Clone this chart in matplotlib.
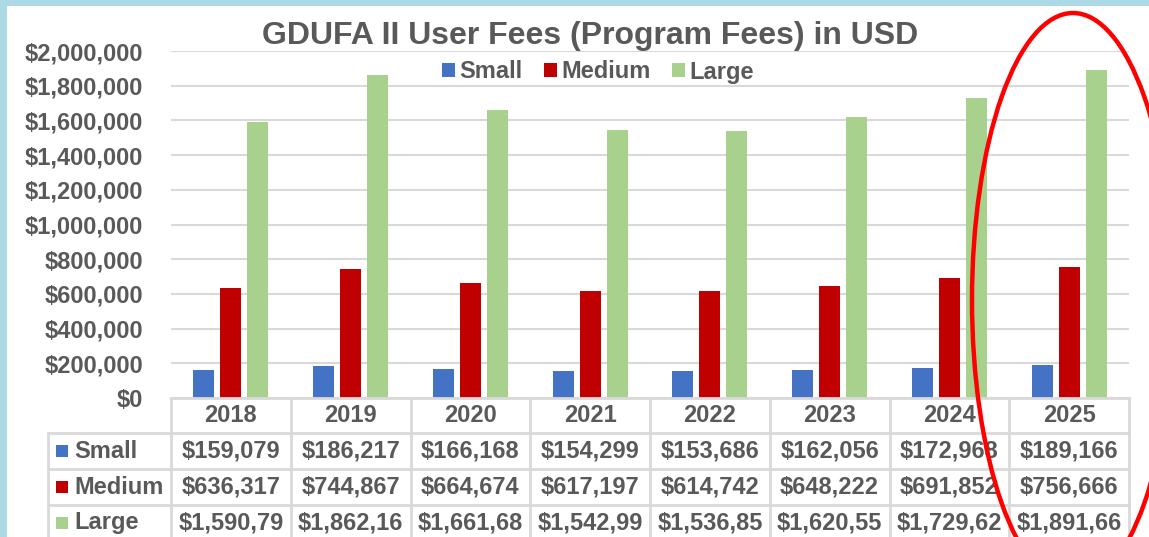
import matplotlib
matplotlib.use("Agg")
import matplotlib.pyplot as plt
from matplotlib.patches import Rectangle, Ellipse
from matplotlib.lines import Line2D
from matplotlib.ticker import FuncFormatter
from matplotlib.transforms import blended_transform_factory

years = ["2018", "2019", "2020", "2021", "2022", "2023", "2024", "2025"]
small = [159079, 186217, 166168, 154299, 153686, 162056, 172968, 189166]
medium = [636317, 744867, 664674, 617197, 614742, 648222, 691852, 756666]
large = [1590792, 1862167, 1661684, 1542993, 1536856, 1620556, 1729626, 1891664]
series = [("Small", small, "#4472C4"),
          ("Medium", medium, "#C00000"),
          ("Large", large, "#A9D18E")]

W, H = 1149, 537
GRAY = "#595959"
GRID = "#D9D9D9"
FONT = "Liberation Sans"

plt.rcParams['font.family'] = [FONT, 'DejaVu Sans']

fig = plt.figure(figsize=(W / 100, H / 100), dpi=100)

def fx(x):
    return x / W

def fy(y):
    return 1 - y / H

# light blue frame on top / left
fig.add_artist(Rectangle((0, 0), fx(7), 1, transform=fig.transFigure,
                         color="#ADD8E6", lw=0, zorder=0))
fig.add_artist(Rectangle((0, fy(6)), 1, 6 / H, transform=fig.transFigure,
                         color="#ADD8E6", lw=0, zorder=0))

ax = fig.add_axes([fx(171), fy(398), fx(1129) - fx(171), fy(51) - fy(398)])

offsets = [-0.225, 0.0, 0.225]
x = list(range(len(years)))
for (name, vals, col), off in zip(series, offsets):
    ax.bar([i + off for i in x], vals, width=0.175, color=col, label=name, zorder=3)

ax.set_xlim(-0.5, len(years) - 0.5)
ax.set_ylim(0, 2000000)
ax.set_yticks(range(0, 2000001, 200000))
ax.yaxis.set_major_formatter(FuncFormatter(lambda v, p: "${:,.0f}".format(v)))
ax.tick_params(axis="y", length=0, pad=20, labelsize=17, labelcolor=GRAY)
for lab in ax.get_yticklabels():
    lab.set_fontweight("bold")
ax.set_xticks([])
ax.grid(axis="y", color=GRID, lw=1.5, zorder=0)
for s in ax.spines.values():
    s.set_visible(False)

fig.text(fx(590), fy(36), "GDUFA II User Fees (Program Fees) in USD",
         ha="center", va="center", fontsize=23, fontweight="bold", color=GRAY)

leg = fig.legend(loc="center", bbox_to_anchor=(fx(598), fy(72)), ncol=3,
                 frameon=False, handlelength=0.55, handleheight=0.55,
                 handletextpad=0.2, columnspacing=0.9,
                 prop={"family": FONT, "weight": "bold", "size": 17})
for t in leg.get_texts():
    t.set_color(GRAY)

# data table below the axis
tr = blended_transform_factory(ax.transData, fig.transFigure)
row_y = [398, 433, 469, 505, 541]
lw = 2

def hline(x0, x1, y):
    fig.add_artist(Line2D([fx(x0), fx(x1)], [fy(y), fy(y)], color=GRID, lw=lw,
                          transform=fig.transFigure, zorder=5))

def vline(xp, y0, y1):
    fig.add_artist(Line2D([fx(xp), fx(xp)], [fy(y0), fy(y1)], color=GRID, lw=lw,
                          transform=fig.transFigure, zorder=5))

hline(171, 1129, 398)
for y in row_y[1:4]:
    hline(48, 1129, y)
vline(48, 433, 545)
for i in range(len(years) + 1):
    vline(171 + i * (1129 - 171) / len(years), 398, 545)

for i, yr in enumerate(years):
    fig.text(i, fy(416), yr, transform=tr, ha="center", va="center",
             fontsize=17, fontweight="bold", color=GRAY)

for r, (name, vals, col) in enumerate(series):
    yc = (row_y[r + 1] + row_y[r + 2]) / 2
    fig.add_artist(Rectangle((fx(56), fy(yc + 6)), fx(12), fy(yc - 6) - fy(yc + 6),
                             transform=fig.transFigure, color=col, lw=0))
    fig.text(fx(74), fy(yc), name, ha="left", va="center",
             fontsize=17, fontweight="bold", color=GRAY)
    for i, v in enumerate(vals):
        s = "${:,}".format(v)[:9]
        fig.text(i, fy(yc), s, transform=tr, ha="center", va="center",
                 fontsize=17, fontweight="bold", color=GRAY)

# red highlight ellipse around 2025
fig.add_artist(Ellipse((fx(1073), fy(300)), fx(202), 574 / H,
                       transform=fig.transFigure, fill=False,
                       edgecolor="#FF0000", lw=3.2, zorder=10))

fig.savefig("out.png", dpi=100)
